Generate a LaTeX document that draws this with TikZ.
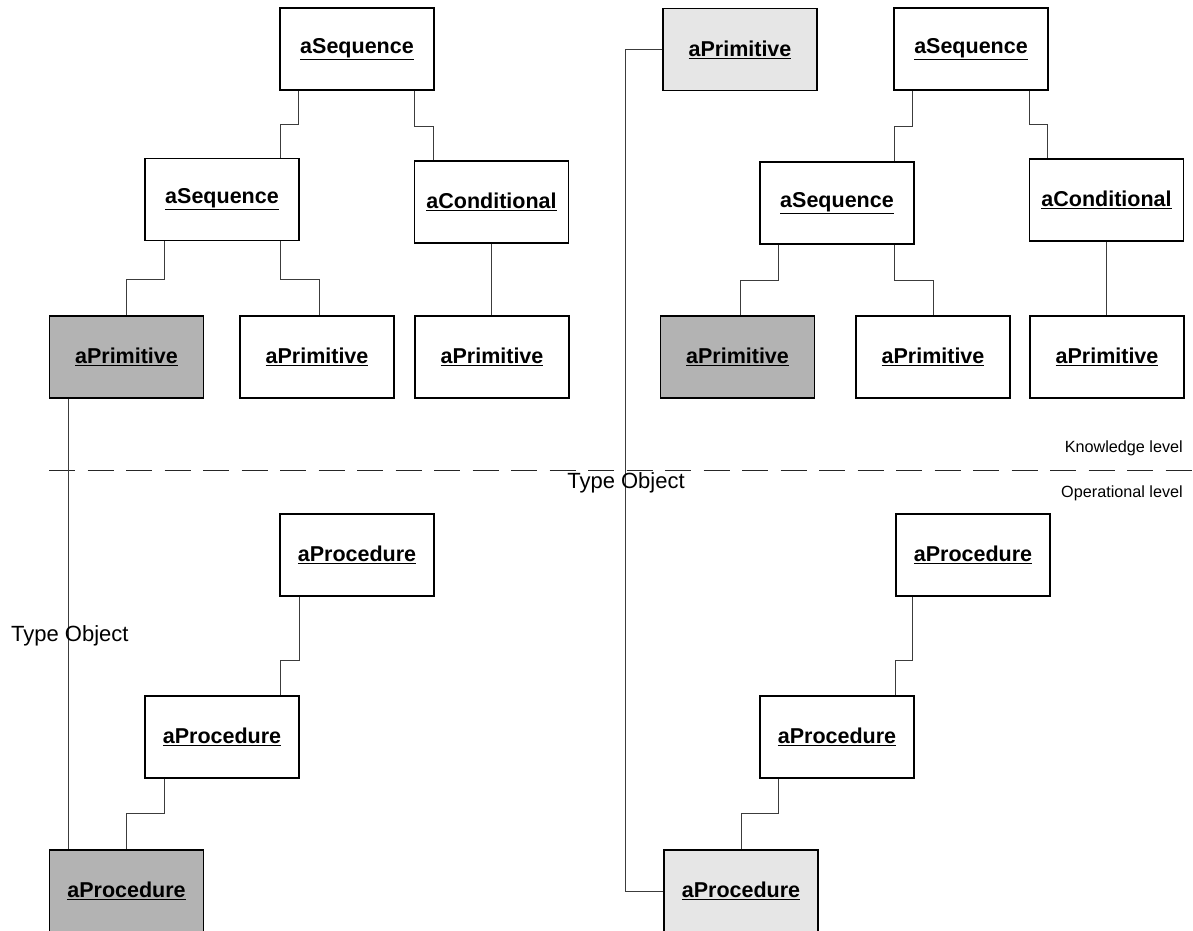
\documentclass[tikz,border=0pt]{standalone}
\usepackage{fontspec}
\setmainfont{Liberation Sans}
\usetikzlibrary{shadows}
\definecolor{darkfill}{RGB}{179,179,179}
\definecolor{lightfill}{RGB}{230,230,230}
\definecolor{wire}{RGB}{60,60,60}
\begin{document}
\begin{tikzpicture}[x=1pt,y=-1pt,
  obj/.style={draw=black,line width=1.2pt,fill=white,minimum width=154pt,minimum height=82pt,
    inner sep=0pt,font=\fontsize{21.5}{25}\selectfont\bfseries,
    drop shadow={shadow xshift=0.9pt,shadow yshift=-0.9pt,opacity=1,fill=black}},
  dark/.style={obj,fill=darkfill},
  light/.style={obj,fill=lightfill},
  link/.style={draw=wire,line width=0.9pt},
  level/.style={font=\fontsize{16.2}{18}\selectfont,inner sep=0pt,anchor=east},
  tag/.style={font=\fontsize{22}{26}\selectfont,inner sep=0pt}]
\useasboundingbox[fill=white] (0,0) rectangle (1193,930);

% knowledge / operational boundary
\draw[black!85,line width=1pt,dash pattern=on 26pt off 12.5pt] (49,470) -- (1193,470);
\node[level] (kl) at (1183,448) {Knowledge level};
\node[level] (ol) at (1183,493) {Operational level};

% left tree, knowledge level
\node[obj]  (LS1) at (357,49)    {\underline{aSequence}};
\node[obj]  (LS2) at (222,199.5) {\underline{aSequence}};
\node[obj]  (LC)  at (491.5,202) {\underline{aConditional}};
\node[dark] (LP1) at (126.5,357) {\underline{aPrimitive}};
\node[obj]  (LP2) at (317,357)   {\underline{aPrimitive}};
\node[obj]  (LP3) at (492,357)   {\underline{aPrimitive}};

% left tree, operational level
\node[obj]  (LQ1) at (357,555)   {\underline{aProcedure}};
\node[obj]  (LQ2) at (222,737)   {\underline{aProcedure}};
\node[dark] (LQ3) at (126.5,891) {\underline{aProcedure}};

% right tree, knowledge level
\node[light] (RP0) at (740,49.5) {\underline{aPrimitive}};
\node[obj]   (RS1) at (971,49)   {\underline{aSequence}};
\node[obj]   (RS2) at (837,203)  {\underline{aSequence}};
\node[obj]   (RC)  at (1106.5,200) {\underline{aConditional}};
\node[dark]  (RP1) at (737.5,357) {\underline{aPrimitive}};
\node[obj]   (RP2) at (933,357)  {\underline{aPrimitive}};
\node[obj]   (RP3) at (1107,357) {\underline{aPrimitive}};

% right tree, operational level
\node[obj]   (RQ1) at (973,555)  {\underline{aProcedure}};
\node[obj]   (RQ2) at (837,737)  {\underline{aProcedure}};
\node[light] (RQ3) at (741,891)  {\underline{aProcedure}};

% left connectors
\draw[link] ([xshift=19pt]LS1.south west) -- ++(0,34) -| ([xshift=-19pt]LS2.north east);
\draw[link] ([xshift=-20pt]LS1.south east) -- ++(0,36) -| ([xshift=20pt]LC.north west);
\draw[link] ([xshift=20pt]LS2.south west) -- ++(0,38) -| (LP1.north);
\draw[link] ([xshift=-19pt]LS2.south east) -- ++(0,38) -| ([xshift=2pt]LP2.north);
\draw[link] (LC.south) -- (LC.south |- LP3.north);
\draw[link] ([xshift=20pt]LQ1.south west) -- ++(0,64) -| ([xshift=-19pt]LQ2.north east);
\draw[link] ([xshift=20pt]LQ2.south west) -- ++(0,35) -| (LQ3.north);

% right connectors
\draw[link] ([xshift=19pt]RS1.south west) -- ++(0,36) -| ([xshift=-20pt]RS2.north east);
\draw[link] ([xshift=-19pt]RS1.south east) -- ++(0,34) -| ([xshift=19pt]RC.north west);
\draw[link] ([xshift=19pt]RS2.south west) -- ++(0,36) -| ([xshift=3pt]RP1.north);
\draw[link] ([xshift=-20pt]RS2.south east) -- ++(0,36) -| (RP2.north);
\draw[link] (RC.south) -- (RC.south |- RP3.north);
\draw[link] ([xshift=17pt]RQ1.south west) -- ++(0,64) -| ([xshift=-19pt]RQ2.north east);
\draw[link] ([xshift=19pt]RQ2.south west) -- ++(0,35) -| (RQ3.north);

% type-object links between the levels
\draw[link] ([xshift=20pt]LP1.south west) -- ([xshift=20pt]LQ3.north west);
\draw[link] (RP0.west) -- ++(-37,0) |- (RQ3.west);

\node[tag,anchor=west] (to1) at (11,636) {Type Object};
\node[tag] (to2) at (626,483) {Type Object};
\end{tikzpicture}
\end{document}
